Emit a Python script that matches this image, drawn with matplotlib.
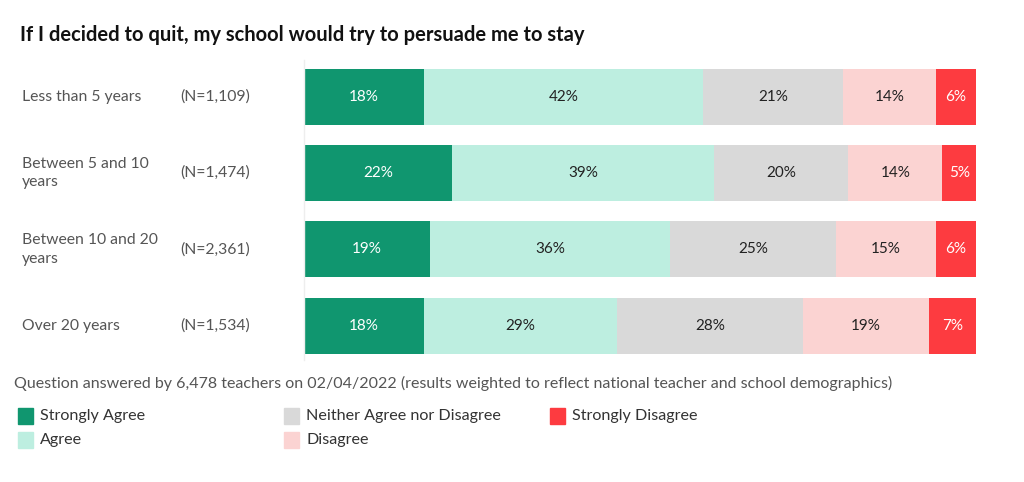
import numpy as np
import matplotlib.pyplot as plt
from matplotlib.transforms import blended_transform_factory
from matplotlib.patches import Rectangle

plt.rcParams['font.family'] = ['Lato', 'DejaVu Sans']

# === data ===
groups = ['Less than 5 years', 'Between 5 and 10\nyears', 'Between 10 and 20\nyears', 'Over 20 years']
group_n = ['(N=1,109)', '(N=1,474)', '(N=2,361)', '(N=1,534)']
responses = ['Strongly Agree', 'Agree', 'Neither Agree nor Disagree', 'Disagree', 'Strongly Disagree']
strongly_agree = [18, 22, 19, 18]
agree = [42, 39, 36, 29]
neither = [21, 20, 25, 28]
disagree = [14, 14, 15, 19]
strongly_disagree = [6, 5, 6, 7]

colors = ['#10966f', '#bdeee0', '#d9d9d9', '#fbd3d2', '#fd3b40']
text_colors = ['white', '#222222', '#222222', '#222222', 'white']

values = np.array([strongly_agree, agree, neither, disagree, strongly_disagree], dtype=float)
shares = values / values.sum(axis=0)  # rows add to 101 from rounding, scale to full width

W, H = 1024, 482
fig = plt.figure(figsize=(W / 100, H / 100), dpi=100)
ax = fig.add_axes([304 / W, 1 - 360 / H, 672 / W, 300 / H])

y = np.arange(len(groups))
left = np.zeros(len(groups))
for i in range(len(responses)):
    ax.barh(y, shares[i], left=left, height=0.73, color=colors[i], edgecolor='none')
    for j in range(len(groups)):
        ax.text(left[j] + shares[i, j] / 2, y[j], f'{int(values[i, j])}%',
                ha='center', va='center', fontsize=11, color=text_colors[i])
    left += shares[i]

ax.set_xlim(0, 1)
ax.set_ylim(3.45, -0.48)
ax.set_xticks([])
ax.set_yticks([])
for s in ['top', 'right', 'bottom']:
    ax.spines[s].set_visible(False)
ax.spines['left'].set_color('#eeeeee')
ax.spines['left'].set_linewidth(1)

# row labels on the left
tr = blended_transform_factory(fig.transFigure, ax.transData)
for j in range(len(groups)):
    ax.text(22 / W, y[j], groups[j], transform=tr, ha='left', va='center',
            fontsize=11.3, color='#555555', linespacing=1.45)
    ax.text(180 / W, y[j], group_n[j], transform=tr, ha='left', va='center',
            fontsize=11.3, color='#555555')

fig.text(20 / W, 1 - 35 / H, 'If I decided to quit, my school would try to persuade me to stay',
         fontsize=14.5, fontweight='bold', color='#111111', va='center')
fig.text(14 / W, 1 - 383 / H,
         'Question answered by 6,478 teachers on 02/04/2022 (results weighted to reflect national teacher and school demographics)',
         fontsize=11.5, color='#555555', va='center')

# legend, filled column by column
leg_x = [18, 284, 550]
leg_y = [416, 440]
for k, name in enumerate(responses):
    cx = leg_x[k // 2]
    cy = leg_y[k % 2]
    fig.patches.append(Rectangle((cx / W, 1 - (cy + 8) / H), 15 / W, 16 / H,
                                 transform=fig.transFigure, color=colors[k]))
    fig.text((cx + 22) / W, 1 - cy / H, name, fontsize=11.6, color='#333333', va='center')

plt.savefig('out.png', dpi=100)
